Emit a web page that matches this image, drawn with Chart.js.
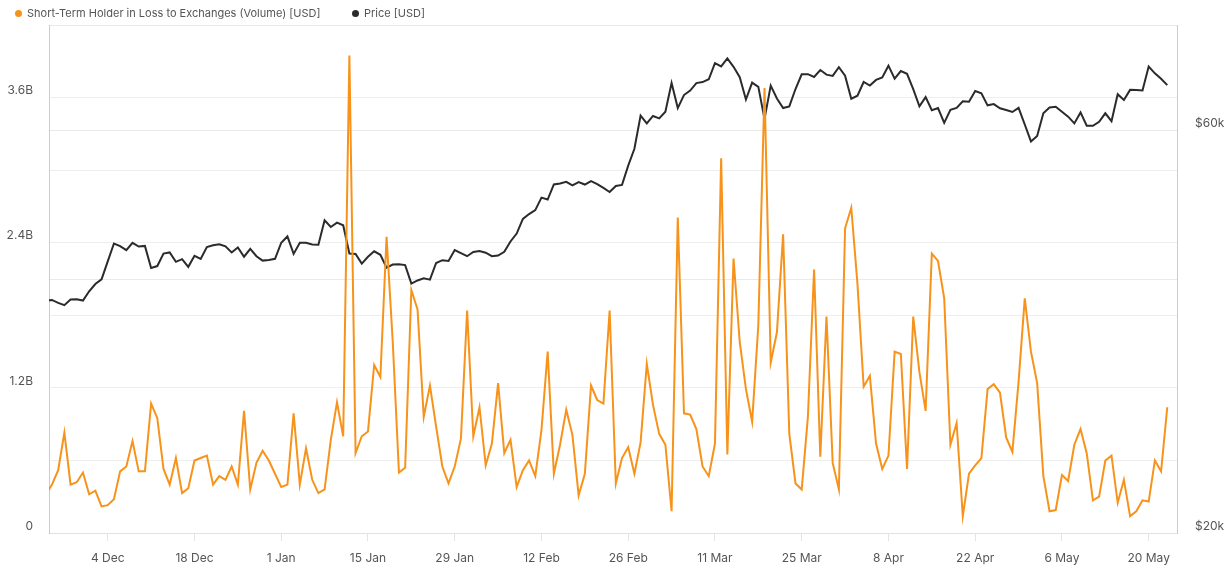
<!DOCTYPE html>
<html>
<head>
<meta charset="utf-8">
<script src="https://cdn.jsdelivr.net/npm/chart.js@4.4.1/dist/chart.umd.min.js"></script>
<style>
  html, body { margin: 0; padding: 0; background: #ffffff; }
  #wrap { position: relative; width: 1231px; height: 570px; overflow: hidden; }
  #c { position: absolute; left: 0; top: 0; }
  .legend { position: absolute; left: 0; top: 0; font-family: Inter, "Noto Sans", sans-serif; font-size: 11px; color: #555; }
  .item { position: absolute; top: 6px; height: 14px; line-height: 14px; white-space: nowrap; }
  .dot { position: absolute; top: 3.5px; width: 7px; height: 7px; border-radius: 50%; }
  .txt { position: absolute; top: 0; left: 12px; }
</style>
</head>
<body>
<div id="wrap">
  <canvas id="c" width="1231" height="570"></canvas>
  <div class="legend" id="legend"></div>
</div>
<script>
// ---- Data ----
const startDate = '2023-11-24';
const seriesNames = ['Short-Term Holder in Loss to Exchanges (Volume) [USD]', 'Price [USD]'];
const seriesColors = ['#f7931a', '#2b2b2b'];

// STH in loss to exchanges, billions USD, daily from 2023-11-24 to 2024-05-23
const sthLossVolume = [
  0.32, 0.40, 0.52, 0.83, 0.40, 0.42, 0.50, 0.32, 0.35, 0.22,
  0.23, 0.28, 0.51, 0.55, 0.76, 0.51, 0.51, 1.07, 0.95, 0.53,
  0.40, 0.62, 0.33, 0.37, 0.60, 0.62, 0.64, 0.40, 0.47, 0.44,
  0.55, 0.40, 1.01, 0.36, 0.58, 0.68, 0.60, 0.49, 0.38, 0.40,
  0.99, 0.40, 0.70, 0.44, 0.33, 0.36, 0.77, 1.08, 0.80, 3.95,
  0.66, 0.80, 0.84, 1.39, 1.29, 2.45, 1.58, 0.50, 0.54, 2.01,
  1.85, 0.96, 1.22, 0.88, 0.55, 0.41, 0.55, 0.78, 1.84, 0.80,
  1.04, 0.56, 0.74, 1.24, 0.66, 0.77, 0.38, 0.52, 0.60, 0.47,
  0.85, 1.50, 0.49, 0.73, 1.02, 0.81, 0.31, 0.49, 1.22, 1.10,
  1.07, 1.84, 0.41, 0.62, 0.71, 0.49, 0.75, 1.40, 1.06, 0.82,
  0.73, 0.18, 2.61, 0.99, 0.98, 0.86, 0.55, 0.47, 0.74, 3.10,
  0.65, 2.27, 1.58, 1.19, 0.92, 1.72, 3.68, 1.41, 1.66, 2.47,
  0.82, 0.41, 0.36, 0.96, 2.18, 0.63, 1.79, 0.58, 0.36, 2.52,
  2.69, 2.06, 1.21, 1.30, 0.74, 0.53, 0.64, 1.50, 1.48, 0.53,
  1.79, 1.33, 1.01, 2.31, 2.25, 1.94, 0.73, 0.91, 0.14, 0.49,
  0.56, 0.62, 1.19, 1.23, 1.16, 0.79, 0.67, 1.25, 1.94, 1.50,
  1.24, 0.47, 0.18, 0.19, 0.48, 0.43, 0.73, 0.86, 0.66, 0.27,
  0.30, 0.60, 0.64, 0.25, 0.44, 0.14, 0.18, 0.27, 0.26, 0.60,
  0.51, 1.04
];

// BTC price, USD, same days
const priceUsd = [
  37720, 37790, 37480, 37250, 37830, 37860, 37720,
  38690, 39470, 39980, 41980, 44080, 43770, 43290, 44170, 43720, 43790,
  41240, 41450, 42890, 43020, 41930, 42240, 41360, 42620, 42270, 43650,
  43870, 43990, 43740, 43020, 43610, 42520, 43440, 42580, 42070, 42140, 42280,
  44180, 44940, 42850, 44180, 44160, 43970, 43930, 46970, 46120, 46660,
  46340, 42890, 42850, 41730, 42510, 43150, 42740, 41260, 41620, 41660,
  41560, 39510, 39850, 40080, 39940, 41800, 42120, 42030, 43300, 42940, 42580,
  43080, 43190, 42990, 42580, 42660, 43090, 44330, 45300, 47140, 47770,
  48290, 49960, 49700, 51800, 51940, 52160, 51660, 52120, 51780, 52280,
  51850, 51300, 50740, 51570, 51730, 54520, 57090, 62500, 61200,
  62440, 62030, 63170, 68330, 63800, 66110, 66930, 68300, 68500, 69020,
  72120, 71480, 73080, 71400, 69400, 65300, 68390, 67610, 61930, 67840,
  65500, 63800, 64100, 67210, 69960, 69990, 69460, 70780, 69900, 69650, 71330,
  69700, 65450, 65980, 68510, 67840, 68900, 69360, 71630, 69140, 70590,
  70060, 67190, 64100, 65740, 63430, 63810, 61280, 63510, 63840, 64990,
  64930, 66840, 66410, 64280, 64500, 63770, 63460, 63120, 63840, 61000,
  58250, 59120, 62890, 63890, 64030, 63160, 62330, 61190, 63050, 60790,
  60790, 61450, 62900, 61550, 66270, 65230, 67050, 67020, 66940, 71450,
  70140, 69120, 67930
];

const tickDates = ['2023-12-04','2023-12-18','2024-01-01','2024-01-15','2024-01-29','2024-02-12',
                   '2024-02-26','2024-03-11','2024-03-25','2024-04-08','2024-04-22','2024-05-06','2024-05-20'];
const tickLabels = ['4 Dec','18 Dec','1 Jan','15 Jan','29 Jan','12 Feb','26 Feb','11 Mar','25 Mar','8 Apr','22 Apr','6 May','20 May'];

const volumeTicks = [0, 0.6, 1.2, 1.8, 2.4, 3.0, 3.6, 4.2];
const volumeTickLabels = ['0', '', '1.2B', '', '2.4B', '', '3.6B', ''];
const priceTicks = [20000, 40000, 60000, 80000];
const priceTickLabels = ['$20k', '', '$60k', ''];

// ---- Day categories ----
const dates = sthLossVolume.map((_, i) => {
  const d = new Date(startDate + 'T00:00:00Z');
  d.setUTCDate(d.getUTCDate() + i);
  return d.toISOString().slice(0, 10);
});

// ---- Legend (HTML text) ----
const legendPos = [{dot: 15, txt: 27}, {dot: 351.5, txt: 364}];
const legendEl = document.getElementById('legend');
seriesNames.forEach((name, k) => {
  const it = document.createElement('div');
  it.className = 'item';
  it.style.left = legendPos[k].dot + 'px';
  it.innerHTML = '<span class="dot" style="background:' + seriesColors[k] + '"></span>' +
                 '<span class="txt" style="left:' + (legendPos[k].txt - legendPos[k].dot) + 'px"></span>';
  it.querySelector('.txt').textContent = name;
  legendEl.appendChild(it);
});

const labelFont = { family: 'Inter, "Noto Sans", sans-serif', size: 12 };
const labelColor = '#555';

new Chart(document.getElementById('c'), {
  type: 'line',
  data: {
    datasets: [
      {
        label: seriesNames[0],
        data: sthLossVolume.map((v, i) => ({ x: i, y: v })),
        borderColor: seriesColors[0],
        backgroundColor: seriesColors[0],
        borderWidth: 2,
        pointRadius: 0,
        tension: 0,
        yAxisID: 'y'
      },
      {
        label: seriesNames[1],
        data: priceUsd.map((v, i) => ({ x: i, y: v })),
        borderColor: seriesColors[1],
        backgroundColor: seriesColors[1],
        borderWidth: 2,
        pointRadius: 0,
        tension: 0,
        yAxisID: 'y1'
      }
    ]
  },
  options: {
    responsive: false,
    animation: false,
    devicePixelRatio: 1,
    layout: { padding: { top: 23, left: 0, right: 0, bottom: 0 } },
    plugins: { legend: { display: false }, tooltip: { enabled: false } },
    scales: {
      x: {
        type: 'linear',
        min: 0.52,
        max: 182.57,
        afterBuildTicks: (s) => { s.ticks = tickDates.map(d => ({ value: dates.indexOf(d) })); },
        afterFit: (s) => { s.height = 37; },
        ticks: {
          callback: (v, i) => tickLabels[i],
          autoSkip: false, maxRotation: 0, color: labelColor, font: labelFont, padding: 10
        },
        grid: { drawOnChartArea: false, drawTicks: true, tickLength: 8, color: '#e4e4e4' },
        border: { color: '#e2e2e2' }
      },
      y: {
        type: 'linear',
        position: 'left',
        min: 0,
        max: 4.2,
        afterBuildTicks: (s) => { s.ticks = volumeTicks.map(v => ({ value: v })); },
        afterFit: (s) => { s.width = 49; },
        ticks: {
          callback: (v, i) => volumeTickLabels[i],
          color: labelColor, font: labelFont, padding: 16, labelOffset: -7
        },
        grid: { drawTicks: false, color: '#eeeeee' },
        border: { color: 'rgba(247,147,26,0.55)' }
      },
      y1: {
        type: 'logarithmic',
        position: 'right',
        min: 20000,
        max: 80000,
        afterBuildTicks: (s) => { s.ticks = priceTicks.map(v => ({ value: v })); },
        afterFit: (s) => { s.width = 54; },
        ticks: {
          callback: (v, i) => priceTickLabels[i],
          color: labelColor, font: labelFont, padding: 18, labelOffset: -7
        },
        grid: { drawTicks: false, color: '#eaeaea' },
        border: { color: '#cccccc' }
      }
    }
  }
});
</script>
</body>
</html>
